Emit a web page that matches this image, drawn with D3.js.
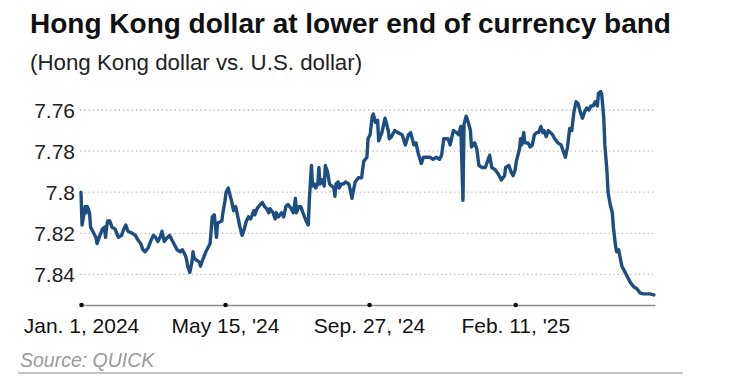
<!DOCTYPE html>
<html>
<head>
<meta charset="utf-8">
<script src="https://cdn.jsdelivr.net/npm/d3@7"></script>
<style>
  html, body { margin: 0; padding: 0; background: #fff; }
  svg { display: block; font-family: "Liberation Sans", Arial, Helvetica, sans-serif; }
</style>
</head>
<body>
<svg id="chart" width="752" height="392"></svg>
<script>
const titleText = "Hong Kong dollar at lower end of currency band";
const subtitleText = "(Hong Kong dollar vs. U.S. dollar)";
const sourceText = "Source: QUICK";

const yTicks = [7.76, 7.78, 7.8, 7.82, 7.84];
const yTickLabels = ["7.76", "7.78", "7.8", "7.82", "7.84"];
const xTickDates = ["2024-01-01", "2024-05-15", "2024-09-27", "2025-02-11"];
const xTickLabels = ["Jan. 1, 2024", "May 15, '24", "Sep. 27, '24", "Feb. 11, '25"];
const xDomain = ["2024-01-01", "2025-06-22"];

const dates = [
"2024-01-01","2024-01-02","2024-01-05","2024-01-06","2024-01-07","2024-01-09","2024-01-10","2024-01-12","2024-01-15","2024-01-16",
"2024-01-18","2024-01-21","2024-01-23","2024-01-24","2024-01-25","2024-01-26","2024-01-28","2024-01-30","2024-02-02","2024-02-05",
"2024-02-08","2024-02-10","2024-02-12","2024-02-14","2024-02-18","2024-02-21","2024-02-23","2024-02-26","2024-02-28","2024-03-01",
"2024-03-04","2024-03-07","2024-03-09","2024-03-11","2024-03-13","2024-03-15","2024-03-17","2024-03-19","2024-03-22","2024-03-24",
"2024-03-26","2024-03-29","2024-03-31","2024-04-03","2024-04-05","2024-04-08","2024-04-09","2024-04-10","2024-04-12","2024-04-14",
"2024-04-15","2024-04-16","2024-04-18","2024-04-21","2024-04-22","2024-04-24","2024-04-27","2024-04-29","2024-05-01","2024-05-03",
"2024-05-05","2024-05-07","2024-05-08","2024-05-12","2024-05-13","2024-05-15","2024-05-16","2024-05-18","2024-05-20","2024-05-21",
"2024-05-23","2024-05-25","2024-05-27","2024-05-29","2024-05-31","2024-06-02","2024-06-04","2024-06-06","2024-06-08","2024-06-11",
"2024-06-12","2024-06-14","2024-06-17","2024-06-19","2024-06-21","2024-06-23","2024-06-25","2024-06-26","2024-06-29","2024-07-01",
"2024-07-02","2024-07-04","2024-07-07","2024-07-09","2024-07-11","2024-07-13","2024-07-16","2024-07-18","2024-07-20","2024-07-21",
"2024-07-23","2024-07-25","2024-07-27","2024-07-30","2024-08-01","2024-08-02","2024-08-04","2024-08-05","2024-08-07","2024-08-08",
"2024-08-10","2024-08-11","2024-08-12","2024-08-14","2024-08-16","2024-08-17","2024-08-19","2024-08-21","2024-08-23","2024-08-25",
"2024-08-26","2024-08-27","2024-08-29","2024-08-30","2024-09-01","2024-09-03","2024-09-05","2024-09-08","2024-09-09","2024-09-11",
"2024-09-12","2024-09-14","2024-09-17","2024-09-20","2024-09-22","2024-09-25","2024-09-26","2024-09-28","2024-09-30","2024-10-01",
"2024-10-03","2024-10-05","2024-10-06","2024-10-09","2024-10-12","2024-10-15","2024-10-16","2024-10-18","2024-10-21","2024-10-24",
"2024-10-28","2024-10-31","2024-11-03","2024-11-05","2024-11-08","2024-11-10","2024-11-12","2024-11-15","2024-11-17","2024-11-20",
"2024-11-23","2024-11-26","2024-11-29","2024-12-02","2024-12-04","2024-12-06","2024-12-10","2024-12-12","2024-12-15","2024-12-18",
"2024-12-20","2024-12-22","2024-12-24","2024-12-25","2024-12-27","2024-12-29","2024-12-31","2025-01-01","2025-01-04","2025-01-06",
"2025-01-08","2025-01-11","2025-01-14","2025-01-16","2025-01-18","2025-01-20","2025-01-23","2025-01-26","2025-01-29","2025-02-01",
"2025-02-02","2025-02-05","2025-02-07","2025-02-09","2025-02-11","2025-02-12","2025-02-15","2025-02-16","2025-02-17","2025-02-19",
"2025-02-20","2025-02-23","2025-02-25","2025-02-27","2025-03-01","2025-03-03","2025-03-05","2025-03-07","2025-03-09","2025-03-10",
"2025-03-12","2025-03-14","2025-03-16","2025-03-18","2025-03-20","2025-03-23","2025-03-26","2025-03-28","2025-03-30","2025-04-01",
"2025-04-03","2025-04-05","2025-04-07","2025-04-09","2025-04-11","2025-04-13","2025-04-15","2025-04-17","2025-04-19","2025-04-21",
"2025-04-23","2025-04-25","2025-04-27","2025-04-29","2025-04-30","2025-05-02","2025-05-03","2025-05-05","2025-05-06","2025-05-08",
"2025-05-09","2025-05-11","2025-05-13","2025-05-14","2025-05-16","2025-05-17","2025-05-19","2025-05-20","2025-05-22","2025-05-23",
"2025-05-25","2025-05-28","2025-05-30","2025-06-02","2025-06-05","2025-06-08","2025-06-11","2025-06-14","2025-06-17","2025-06-21"
];

const values = [
7.800,7.816,7.807,7.810,7.807,7.810,7.817,7.819,7.822,7.825,
7.822,7.818,7.817,7.822,7.817,7.814,7.814,7.817,7.818,7.822,
7.821,7.818,7.816,7.819,7.820,7.821,7.823,7.825,7.828,7.829,
7.827,7.823,7.821,7.822,7.824,7.822,7.819,7.824,7.822,7.821,
7.823,7.826,7.828,7.829,7.828,7.831,7.833,7.836,7.839,7.834,
7.829,7.832,7.833,7.834,7.836,7.833,7.829,7.827,7.825,7.812,
7.811,7.822,7.815,7.814,7.810,7.804,7.800,7.798,7.802,7.804,
7.809,7.807,7.812,7.817,7.821,7.818,7.814,7.812,7.813,7.809,
7.811,7.808,7.806,7.805,7.807,7.808,7.810,7.808,7.810,7.813,
7.810,7.812,7.810,7.812,7.807,7.806,7.808,7.810,7.803,7.810,
7.807,7.807,7.810,7.814,7.816,7.804,7.787,7.797,7.796,7.798,
7.796,7.788,7.796,7.794,7.797,7.787,7.790,7.796,7.797,7.798,
7.802,7.796,7.795,7.798,7.796,7.796,7.795,7.796,7.798,7.803,
7.800,7.795,7.793,7.793,7.785,7.783,7.774,7.772,7.763,7.762,
7.766,7.765,7.775,7.771,7.764,7.770,7.774,7.773,7.770,7.771,
7.772,7.777,7.772,7.771,7.777,7.776,7.781,7.786,7.783,7.783,
7.783,7.784,7.783,7.784,7.782,7.774,7.774,7.777,7.770,7.771,
7.772,7.768,7.804,7.767,7.763,7.766,7.770,7.778,7.776,7.779,
7.787,7.788,7.788,7.785,7.782,7.788,7.789,7.791,7.794,7.792,
7.788,7.787,7.790,7.792,7.789,7.785,7.779,7.774,7.777,7.771,
7.776,7.776,7.778,7.777,7.772,7.771,7.771,7.768,7.771,7.770,
7.773,7.770,7.771,7.772,7.774,7.776,7.777,7.780,7.783,7.778,
7.769,7.770,7.761,7.756,7.757,7.761,7.764,7.761,7.759,7.760,
7.758,7.758,7.756,7.758,7.752,7.751,7.752,7.764,7.777,7.790,
7.800,7.806,7.810,7.817,7.826,7.829,7.828,7.831,7.836,7.837,
7.839,7.842,7.844,7.846,7.847,7.849,7.8495,7.8495,7.8495,7.850
];

const parse = d3.utcParse("%Y-%m-%d");
const series = dates.map((d, i) => ({ date: parse(d), value: values[i] }));

const svg = d3.select("#chart");
const x = d3.scaleUtc().domain(xDomain.map(parse)).range([81, 655]);
const y = d3.scaleLinear().domain([7.76, 7.84]).range([110, 274.4]);

// Title & subtitle
svg.append("text").attr("x", 30).attr("y", 33)
  .attr("font-size", 28).attr("font-weight", "bold").attr("fill", "#111")
  .text(titleText);
svg.append("text").attr("x", 30).attr("y", 70)
  .attr("font-size", 22.3).attr("fill", "#222")
  .text(subtitleText);

// Gridlines
svg.append("g").selectAll("line").data(yTicks).join("line")
  .attr("x1", 80).attr("x2", 655)
  .attr("y1", d => y(d)).attr("y2", d => y(d))
  .attr("stroke", "#b8b8b8").attr("stroke-width", 1.3)
  .attr("stroke-dasharray", "1.3 3");

// Y axis
const yAxis = d3.axisLeft(y).tickValues(yTicks).tickSize(0).tickPadding(0)
  .tickFormat((d, i) => yTickLabels[i]);
const gy = svg.append("g").attr("transform", "translate(75,0)").call(yAxis);
gy.select(".domain").remove();
gy.selectAll("text").attr("font-size", 21).attr("fill", "#222")
  .attr("font-family", "'Liberation Sans', Arial, sans-serif").attr("dy", "0.36em");

// X axis
const xTicks = xTickDates.map(parse);
const xAxis = d3.axisBottom(x).tickValues(xTicks).tickSize(0).tickPadding(13)
  .tickFormat((d, i) => xTickLabels[i]);
const gx = svg.append("g").attr("transform", "translate(0,305)").call(xAxis);
gx.select(".domain").attr("stroke", "#8a8a8a").attr("stroke-width", 1.5);
gx.selectAll("text").attr("font-size", 21).attr("fill", "#111")
  .attr("font-family", "'Liberation Sans', Arial, sans-serif");
gx.selectAll(".tick").append("circle").attr("r", 2.3).attr("fill", "#111");

// Line
const line = d3.line().x(d => x(d.date)).y(d => y(d.value)).curve(d3.curveLinear);
svg.append("path").datum(series)
  .attr("fill", "none").attr("stroke", "#1d4e82").attr("stroke-width", 3.4)
  .attr("stroke-linejoin", "round").attr("stroke-linecap", "round")
  .attr("d", line);

// Source
svg.append("text").attr("x", 20).attr("y", 367)
  .attr("font-size", 19.5).attr("font-style", "italic").attr("fill", "#9a9a9a")
  .text(sourceText);
svg.append("line").attr("x1", 18).attr("x2", 683).attr("y1", 373).attr("y2", 373)
  .attr("stroke", "#888").attr("stroke-width", 1);
</script>
</body>
</html>
